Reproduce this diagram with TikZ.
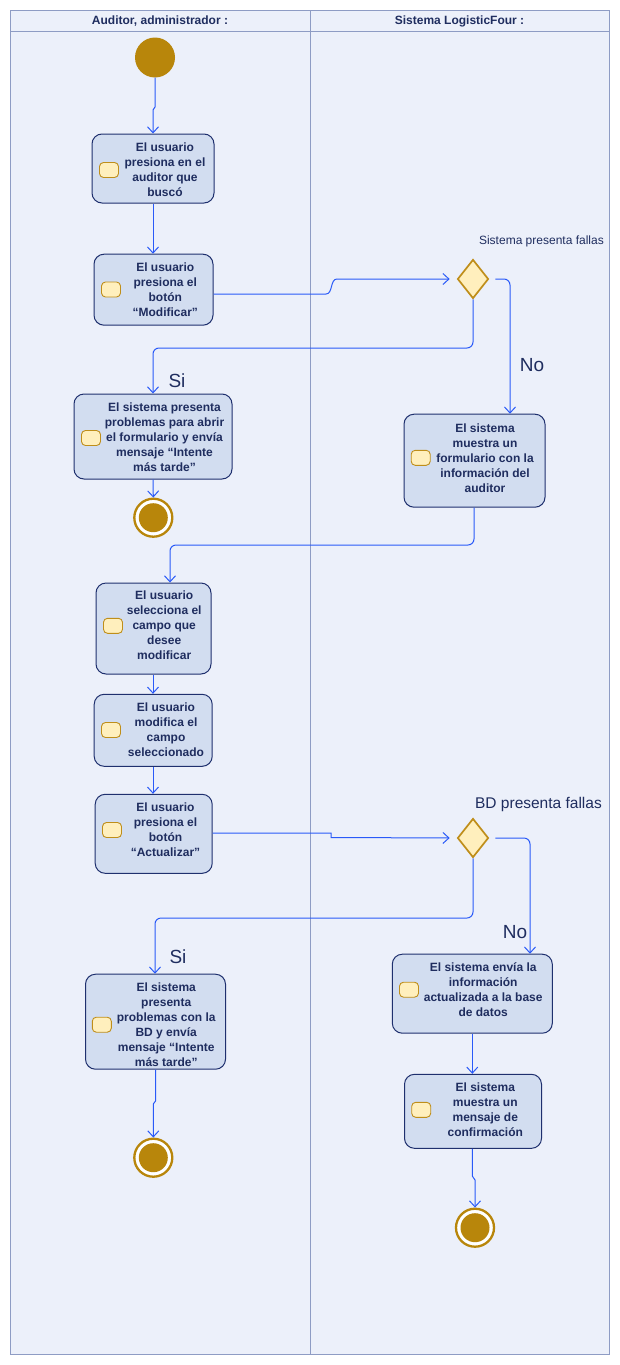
\documentclass[tikz,border=0pt]{standalone}
\usepackage{fontspec}
\setmainfont{Liberation Sans}
\usetikzlibrary{arrows.meta,shapes.geometric}
\definecolor{bg}{HTML}{ECF0FA}
\definecolor{lane}{HTML}{8E9CC4}
\definecolor{boxfill}{HTML}{D2DDF0}
\definecolor{boxdraw}{HTML}{1F306E}
\definecolor{txt}{HTML}{1F2D5F}
\definecolor{arrowc}{HTML}{2A5AF8}
\definecolor{gold}{HTML}{B8860B}
\definecolor{iconfill}{HTML}{FFEFBD}
\definecolor{icondraw}{HTML}{BF8E1A}
\begin{document}
\begin{tikzpicture}[x=1pt,y=-1pt,
  actbox/.style={draw=boxdraw, fill=boxfill, line width=1pt, rounded corners=10pt, inner sep=0pt},
  acttext/.style={text=txt, font=\fontsize{12}{15}\selectfont\bfseries, align=center, inner sep=0pt},
  icon/.style={draw=icondraw, fill=iconfill, line width=0.9pt, rounded corners=4pt, minimum width=19pt, minimum height=15pt, inner sep=0pt},
  flow/.style={draw=arrowc, line width=1pt, -{Straight Barb[length=6pt,width=11pt]}, rounded corners=6pt},
  decision/.style={diamond, draw=icondraw, fill=iconfill, line width=1.7pt, minimum width=31pt, minimum height=39pt, inner sep=0pt},
  startnode/.style={circle, fill=gold, minimum size=40pt, inner sep=0pt},
  endnode/.style={circle, draw=gold, fill=white, line width=2.3pt, minimum size=38pt, inner sep=0pt},
  header/.style={text=txt, font=\fontsize{12}{14}\selectfont\bfseries, inner sep=0pt},
  guard/.style={text=txt, font=\fontsize{19}{21}\selectfont, inner sep=0pt},
  condlabel/.style={text=txt, inner sep=0pt, anchor=east}
]
\useasboundingbox (0,0) rectangle (620,1365);
\fill[white] (0,0) rectangle (620,1365);
% swimlanes
\filldraw[fill=bg, draw=lane, line width=1pt] (10,10) rectangle (609,1354);
\draw[lane, line width=1pt] (10,31) -- (609,31);
\draw[lane, line width=1pt] (310,10) -- (310,1354);
\node[header] (h1) at (160,21) {Auditor, administrador :};
\node[header] (h2) at (459.5,21) {Sistema LogisticFour :};

% start
\node[startnode] (i0) at (155,57.5) {};

% boxes
\node[actbox, minimum width=122pt, minimum height=69pt] (b1) at (153,168.5) {};
\node[icon] (ic1) at (109,170) {};
\node[acttext] (t1) at (165,169.5) {El usuario\\presiona en el\\auditor que\\buscó};

\node[actbox, minimum width=119pt, minimum height=71pt] (b2) at (153.5,289.7) {};
\node[icon] (ic2) at (111,289.5) {};
\node[acttext] (t2) at (165.3,289.7) {El usuario\\presiona el\\botón\\“Modificar”};

\node[decision] (d1) at (473,279) {};
\node[condlabel, font=\fontsize{12}{14}\selectfont] (l1) at (604,241) {Sistema presenta fallas};

\node[actbox, minimum width=141pt, minimum height=93pt] (b3) at (474.5,460.7) {};
\node[icon] (ic3) at (420.7,457.8) {};
\node[acttext] (t3) at (485,458) {El sistema\\muestra un\\formulario con la\\información del\\auditor};

\node[actbox, minimum width=158pt, minimum height=85pt] (s1) at (153,436.5) {};
\node[icon] (ic4) at (91,438) {};
\node[acttext] (t4) at (164.5,437.7) {El sistema presenta\\problemas para abrir\\el formulario y envía\\mensaje “Intente\\más tarde”};

\node[endnode] (f1) at (153.3,517.7) {};
\fill[gold] (f1.center) circle (14.5pt);

\node[actbox, minimum width=115pt, minimum height=91pt] (b4) at (153.5,628.5) {};
\node[icon] (ic5) at (113,625.8) {};
\node[acttext] (t5) at (164.2,625.7) {El usuario\\selecciona el\\campo que\\desee\\modificar};

\node[actbox, minimum width=118pt, minimum height=72pt] (b5) at (153.2,730.3) {};
\node[icon] (ic6) at (111,730) {};
\node[acttext] (t6) at (166,730) {El usuario\\modifica el\\campo\\seleccionado};

\node[actbox, minimum width=117pt, minimum height=79pt] (b6) at (153.7,833.8) {};
\node[icon] (ic7) at (112,830) {};
\node[acttext] (t7) at (165.5,830) {El usuario\\presiona el\\botón\\“Actualizar”};

\node[decision] (d2) at (473,838) {};
\node[condlabel, font=\fontsize{15.5}{18}\selectfont] (l2) at (602,804) {BD presenta fallas};

\node[actbox, minimum width=160pt, minimum height=79pt] (b7) at (472.3,993.7) {};
\node[icon] (ic8) at (409,989.7) {};
\node[acttext] (t8) at (483.2,990) {El sistema envía la\\información\\actualizada a la base\\de datos};

\node[actbox, minimum width=140pt, minimum height=95pt] (s2) at (155.5,1021.7) {};
\node[icon] (ic9) at (101.8,1024.7) {};
\node[acttext] (t9) at (166.2,1025) {El sistema\\presenta\\problemas con la\\BD y envía\\mensaje “Intente\\más tarde”};

\node[endnode] (f2) at (153.3,1157.7) {};
\fill[gold] (f2.center) circle (14.5pt);

\node[actbox, minimum width=137pt, minimum height=74pt] (b9) at (473,1111.3) {};
\node[icon] (ic10) at (421.2,1109.8) {};
\node[acttext] (t10) at (485.3,1110) {El sistema\\muestra un\\mensaje de\\confirmación};

\node[endnode] (f3) at (475,1227.7) {};
\fill[gold] (f3.center) circle (14.5pt);

% guards
\node[guard] (g1) at (532,365) {No};
\node[guard] (g2) at (177,381) {Si};
\node[guard] (g3) at (515,932) {No};
\node[guard] (g4) at (178,957) {Si};

% connectors
\draw[flow, rounded corners=0pt] (i0.south) -- (155,107) -- (153,110) -- (b1.north);
\draw[flow] (b1.south) -- (b1.south |- b2.north);
\draw[flow, rounded corners=0pt, shorten >=7pt] (b2.east |- 0,294) -- (326,294) .. controls (333,294) and (330,279) .. (337,279) -- (d1.west);
\draw[flow, shorten <=6pt] (d1.east) -| (b3.north -| 510,0);
\draw[flow] (d1.south) |- (s1.north |- 0,348) -- (s1.north);
\draw[flow] (s1.south) -- (f1.north);
\draw[flow] (b3.south -| 474,0) |- (170,545) -- (b4.north -| 170,0);
\draw[flow] (b4.south -| 153,0) -- (b5.north -| 153,0);
\draw[flow] (b5.south -| 153,0) -- (b6.north -| 153,0);
\draw[flow, rounded corners=0pt, shorten >=7pt] (b6.east |- 0,833) -- (331,833) -- (331,837.5) -- (d2.west);
\draw[flow, shorten <=6pt] (d2.east) -| (b7.north -| 530,0);
\draw[flow] (d2.south) |- (155,918) -- (s2.north -| 155,0);
\draw[flow, rounded corners=0pt] (s2.south -| 155.5,0) -- (155.5,1101) -- (153.3,1104) -- (f2.north);
\draw[flow] (b7.south -| 472.3,0) -- (b9.north -| 472.3,0);
\draw[flow, rounded corners=0pt] (b9.south -| 472.3,0) -- (472.3,1176) -- (475,1180) -- (f3.north);
\end{tikzpicture}
\end{document}
